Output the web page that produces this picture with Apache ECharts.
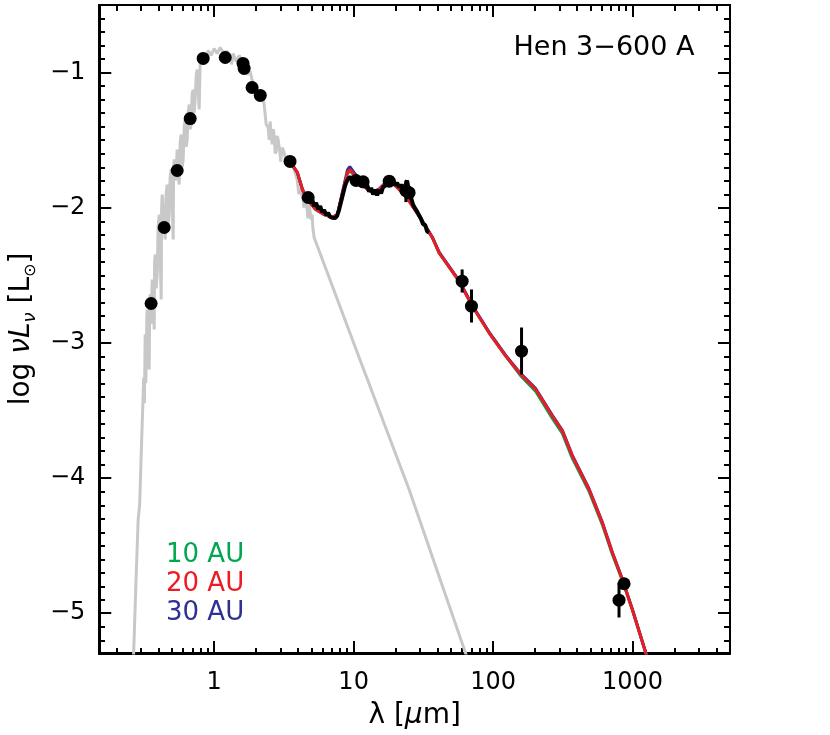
<!DOCTYPE html>
<html><head><meta charset="utf-8">
<script src="https://cdn.jsdelivr.net/npm/echarts@6/dist/echarts.min.js"></script>
<style>html,body{margin:0;padding:0;background:#fff}#c{width:830px;height:735px}</style>
</head><body><div id="c"></div>
<script>
// ---------- data (wavelength in micron, log nu L_nu in L_sun) ----------
const starWave = [0.263,0.2737,0.2851,0.2922,0.3021,0.3124,0.3160,0.3201,0.3230,0.3255,
  0.3290,0.3310,0.3360,0.3420,0.3450,0.3477,0.3530,0.3594,0.3650,0.3714,
  0.3740,0.3777,0.3840,0.3903,0.3960,0.4034,0.4100,0.4170,0.4200,0.4239,
  0.4350,0.4454,0.4520,0.4603,0.4680,0.4757,0.4830,0.4917,0.5000,0.5083,
  0.5120,0.5168,0.5300,0.5429,0.5520,0.5611,0.5700,0.5799,0.5900,0.5995,
  0.6100,0.6196,0.6300,0.6405,0.6500,0.6619,0.6730,0.6840,0.6950,0.7070,
  0.7190,0.7307,0.7430,0.7553,0.7680,0.7806,0.7936,0.8340,0.8764,0.9057,
  0.9517,1.0,1.051,1.104,1.160,1.239,1.302,1.330,1.368,1.438,
  1.511,1.587,1.668,1.725,1.812,1.904,2.000,2.102,2.208,2.283,
  2.360,2.438,2.480,2.520,2.605,2.650,2.692,2.740,2.783,2.830,
  2.876,2.972,3.000,3.072,3.150,3.228,3.300,3.393,3.500,3.565,
  3.746,3.850,3.936,4.050,4.136,4.345,4.400,4.491,4.642,4.700,
  4.798,4.959,5.041,5.100,5.211,10.95,25.0,64.0,67.3];
const starLum = [-5.385,-4.830,-4.311,-4.200,-3.719,-3.259,-3.45,-2.941,-3.30,-3.163,
  -2.80,-2.756,-3.05,-3.200,-2.70,-2.644,-2.86,-2.533,-2.62,-2.904,
  -2.40,-2.348,-2.60,-2.496,-2.15,-2.052,-2.35,-2.681,-2.00,-1.904,
  -2.10,-2.237,-1.90,-1.830,-2.15,-2.052,-1.78,-1.719,-1.95,-2.237,
  -1.70,-1.644,-1.80,-1.570,-1.72,-1.830,-1.52,-1.459,-1.70,-1.644,
  -1.40,-1.348,-1.55,-1.496,-1.30,-1.237,-1.42,-1.385,-1.16,-1.126,
  -1.30,-1.200,-1.02,-0.978,-1.12,-1.274,-0.919,-0.874,-0.904,-0.837,
  -0.874,-0.822,-0.859,-0.815,-0.852,-0.844,-0.874,-0.94,-0.859,-0.919,
  -0.874,-0.919,-0.948,-1.015,-0.993,-1.089,-1.111,-1.170,-1.163,-1.237,
  -1.385,-1.407,-1.50,-1.363,-1.533,-1.42,-1.459,-1.60,-1.585,-1.47,
  -1.496,-1.607,-1.66,-1.556,-1.58,-1.630,-1.68,-1.615,-1.62,-1.681,
  -1.719,-1.76,-1.793,-1.90,-1.867,-1.941,-2.00,-1.926,-2.015,-2.08,
  -1.978,-2.089,-2.052,-2.15,-2.222,-3.111,-4.089,-5.311,-5.378];

const modelWave = [3.506,3.955,4.295,4.665,5.358,6.144,7.047,7.653,8.313,9.028,
  9.393,10.08,11.26,12.56,13.64,15.23,17.02,18.48,20.07,22.38,
  25.0,29.48,36.72,41.02,57.06,71.06,93.61,123.3,157.9,202.4,
  232.1,266.1,314.0,370.3,487.8,607.5,716.5,845.2,996.8,1244,1313];
const model10AU = [-1.659,-1.743,-1.867,-1.941,-2.015,-2.052,-2.072,-2.052,-1.895,-1.750,
  -1.728,-1.760,-1.805,-1.867,-1.887,-1.867,-1.817,-1.805,-1.842,-1.891,
  -1.953,-2.064,-2.224,-2.336,-2.546,-2.731,-2.928,-3.101,-3.247,-3.362,
  -3.462,-3.562,-3.673,-3.858,-4.103,-4.349,-4.568,-4.762,-4.980,-5.299,-5.385];
const model20AU = [-1.659,-1.743,-1.867,-1.941,-2.015,-2.052,-2.072,-2.052,-1.891,-1.743,
  -1.719,-1.756,-1.805,-1.867,-1.887,-1.867,-1.817,-1.805,-1.842,-1.891,
  -1.953,-2.064,-2.224,-2.336,-2.546,-2.731,-2.928,-3.101,-3.237,-3.348,
  -3.447,-3.546,-3.657,-3.842,-4.089,-4.336,-4.558,-4.756,-4.978,-5.299,-5.385];
const model30AU = [-1.659,-1.743,-1.867,-1.941,-2.015,-2.052,-2.072,-2.052,-1.885,-1.722,
  -1.698,-1.742,-1.800,-1.864,-1.885,-1.864,-1.813,-1.800,-1.838,-1.887,
  -1.949,-2.060,-2.220,-2.331,-2.541,-2.726,-2.923,-3.096,-3.231,-3.342,
  -3.441,-3.540,-3.651,-3.836,-4.083,-4.331,-4.553,-4.752,-4.975,-5.296,-5.383];

const irsWave = [4.418,4.642,4.878,5.041,5.211,5.385,5.567,5.754,5.947,6.144,
  6.353,6.566,6.784,7.014,7.367,7.615,7.873,8.136,8.409,8.693,
  8.983,9.284,9.596,9.918,10.25,10.59,10.95,11.32,11.70,12.09,
  12.50,12.92,13.35,13.80,14.26,14.74,15.23,15.74,16.27,16.82,
  17.39,17.97,18.57,19.20,19.84,20.50,21.20,21.90,22.64,23.40,
  24.18,25.0,25.84,26.70,27.60,28.52,29.48,30.47,31.49,32.55,
  33.65,34.77];
const irsLum = [-1.916,-1.945,-1.963,-1.940,-1.990,-1.965,-2.012,-1.990,-2.035,-2.018,
  -2.055,-2.040,-2.070,-2.076,-2.078,-2.062,-2.015,-1.956,-1.896,-1.837,
  -1.800,-1.778,-1.778,-1.805,-1.780,-1.815,-1.790,-1.828,-1.810,-1.852,
  -1.832,-1.882,-1.855,-1.904,-1.868,-1.910,-1.870,-1.895,-1.848,-1.840,
  -1.800,-1.793,-1.812,-1.795,-1.835,-1.818,-1.850,-1.832,-1.858,-1.840,
  -1.800,-1.889,-1.930,-1.980,-2.005,-2.030,-2.058,-2.085,-2.125,-2.128,
  -2.178,-2.185];

const obsWave = [0.353,0.438,0.543,0.673,0.834,1.20,1.61,1.64,1.87,2.14,
  3.50,4.72,10.4,11.7,18.0,23.7,25.0,60,70,160,870,800];
const obsLum = [-2.711,-2.148,-1.726,-1.341,-0.896,-0.889,-0.933,-0.970,-1.111,-1.170,
  -1.659,-1.926,-1.800,-1.810,-1.805,-1.875,-1.890,-2.546,-2.731,-3.064,-4.787,-4.909];
const errWave = [23.7,60,70,160,800];
const errLow  = [-1.960,-2.630,-2.852,-3.237,-5.037];
const errHigh = [-1.800,-2.459,-2.607,-2.889,-4.778];

const xMajor = [1,10,100,1000];
const xMinor = [0.2,0.3,0.4,0.5,0.6,0.7,0.8,0.9,2,3,4,5,6,7,8,9,20,30,40,50,60,70,80,90,
  200,300,400,500,600,700,800,900,2000,3000,4000];
const yMajor = [-5,-4,-3,-2,-1];
const yMinor = [];
for (let k = -52; k <= -6; k++) { if (k % 10 !== 0) yMinor.push(k / 10); }

const legendLabels = ['10 AU','20 AU','30 AU'];
const objectName = 'Hen 3\u2212600 A';

// ---------- chart ----------
const FONT = 'DejaVu Sans';
const GREEN = '#00a650', RED = '#ed1c24', BLUE = '#2e3192';
const zip = (a, b) => a.map((v, i) => [v, b[i]]);
const G = {left: 99, top: 5, width: 631, height: 649};

function xAx(gi, pos, ticks, len, labels, extra) {
  return Object.assign({
    type: 'log', logBase: 10, gridIndex: gi, position: pos, min: 0.15, max: 5000,
    axisLine: {show: true, onZero: false, lineStyle: {color: '#000', width: 2}},
    axisTick: {show: true, inside: true, length: len, customValues: ticks, lineStyle: {color: '#000', width: 2}},
    axisLabel: labels ? {show: true, customValues: xMajor, formatter: v => String(Math.round(v)),
      margin: 18, color: '#000', fontSize: 24, fontFamily: FONT} : {show: false},
    splitLine: {show: false}, minorTick: {show: false}
  }, extra || {});
}
function yAx(gi, pos, ticks, len, labels, extra) {
  return Object.assign({
    type: 'value', gridIndex: gi, position: pos, min: -5.3, max: -0.5,
    axisLine: {show: true, onZero: false, lineStyle: {color: '#000', width: 2}},
    axisTick: {show: true, inside: true, length: len, customValues: ticks, lineStyle: {color: '#000', width: 2}},
    axisLabel: labels ? {show: true, customValues: yMajor, formatter: v => '\u2212' + Math.abs(v),
      margin: 14, color: '#000', fontSize: 24, fontFamily: FONT} : {show: false},
    splitLine: {show: false}, minorTick: {show: false}
  }, extra || {});
}

const chart = echarts.init(document.getElementById('c'), null, {renderer: 'canvas'});
const lineBase = {type: 'line', xAxisIndex: 0, yAxisIndex: 0, showSymbol: false, symbol: 'none',
  animation: false, clip: true};

chart.setOption({
  animation: false,
  backgroundColor: '#fff',
  grid: [Object.assign({}, G), Object.assign({}, G)],
  xAxis: [
    xAx(0, 'bottom', xMajor, 12, true, {
      name: '{n|\u03bb [}{i|\u03bc}{n|m]}', nameLocation: 'middle', nameGap: 49,
      nameTextStyle: {color: '#000', fontFamily: FONT, fontSize: 28,
        rich: {n: {fontSize: 28, fontFamily: FONT, color: '#000'},
               i: {fontSize: 28, fontFamily: FONT, fontStyle: 'italic', color: '#000'}}}
    }),
    xAx(0, 'top', xMajor, 12, false),
    xAx(1, 'bottom', xMinor, 6, false),
    xAx(1, 'top', xMinor, 6, false)
  ],
  yAxis: [
    yAx(0, 'left', yMajor, 12, true, {
      name: '{n|log }{i|\u03bdL}{si|\u03bd}{n| [L}{s|\u2299}{n|]}', nameLocation: 'middle', nameGap: 60, nameRotate: 90,
      nameTextStyle: {color: '#000', fontFamily: FONT, fontSize: 28,
        rich: {n: {fontSize: 28, fontFamily: FONT, color: '#000', lineHeight: 34, verticalAlign: 'middle'},
               i: {fontSize: 28, fontFamily: FONT, fontStyle: 'italic', color: '#000', lineHeight: 34, verticalAlign: 'middle'},
               si: {fontSize: 18, fontFamily: FONT, fontStyle: 'italic', color: '#000', lineHeight: 34, verticalAlign: 'bottom', padding: [12, 0, 0, 0]},
               s: {fontSize: 16, fontFamily: FONT, color: '#000', lineHeight: 34, verticalAlign: 'bottom', padding: [12, 0, 0, 0]}}}
    }),
    yAx(0, 'right', yMajor, 12, false),
    yAx(1, 'left', yMinor, 6, false),
    yAx(1, 'right', yMinor, 6, false)
  ],
  series: [
    Object.assign({}, lineBase, {name: 'photosphere', data: zip(starWave, starLum),
      lineStyle: {color: '#c8c8c8', width: 3}, z: 1}),
    Object.assign({}, lineBase, {name: legendLabels[0], data: zip(modelWave, model10AU),
      lineStyle: {color: GREEN, width: 3}, z: 2}),
    Object.assign({}, lineBase, {name: legendLabels[2], data: zip(modelWave, model30AU),
      lineStyle: {color: BLUE, width: 3}, z: 3}),
    Object.assign({}, lineBase, {name: legendLabels[1], data: zip(modelWave, model20AU),
      lineStyle: {color: RED, width: 3}, z: 4}),
    Object.assign({}, lineBase, {name: 'IRS', data: zip(irsWave, irsLum),
      lineStyle: {color: '#000', width: 4}, z: 5}),
    {
      type: 'custom', name: 'errors', xAxisIndex: 0, yAxisIndex: 0, z: 6,
      data: errWave.map((w, i) => [w, errLow[i], errHigh[i]]),
      encode: {x: 0, y: [1, 2]},
      renderItem: (params, api) => {
        const p1 = api.coord([api.value(0), api.value(1)]);
        const p2 = api.coord([api.value(0), api.value(2)]);
        return {type: 'line', shape: {x1: p1[0], y1: p1[1], x2: p2[0], y2: p2[1]},
          style: {stroke: '#000', lineWidth: 3}};
      }
    },
    {
      type: 'scatter', name: 'photometry', xAxisIndex: 0, yAxisIndex: 0, z: 7,
      data: zip(obsWave, obsLum), symbol: 'circle', symbolSize: 13,
      itemStyle: {color: '#000', opacity: 1}
    }
  ],
  graphic: [
    {type: 'text', x: 604, y: 48, z: 10,
      style: {text: objectName, fill: '#000', fontSize: 27, fontFamily: FONT, align: 'center', verticalAlign: 'middle'}},
    {type: 'text', x: 166, y: 555, z: 10,
      style: {text: legendLabels[0], fill: GREEN, fontSize: 26, fontFamily: FONT, align: 'left', verticalAlign: 'middle'}},
    {type: 'text', x: 166, y: 584, z: 10,
      style: {text: legendLabels[1], fill: RED, fontSize: 26, fontFamily: FONT, align: 'left', verticalAlign: 'middle'}},
    {type: 'text', x: 166, y: 613, z: 10,
      style: {text: legendLabels[2], fill: BLUE, fontSize: 26, fontFamily: FONT, align: 'left', verticalAlign: 'middle'}}
  ]
});
</script></body></html>
